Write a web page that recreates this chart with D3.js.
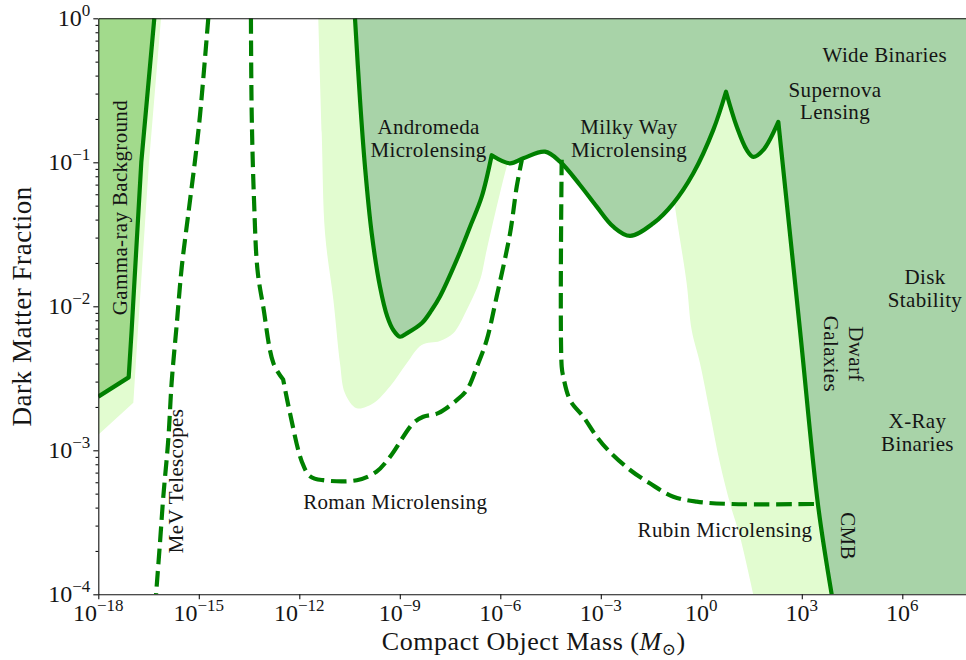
<!DOCTYPE html>
<html><head><meta charset="utf-8">
<script src="https://cdn.jsdelivr.net/npm/d3@7"></script>
<style>
body{margin:0;background:#fff}
svg{display:block}
text{font-family:"Liberation Serif","DejaVu Serif",serif;fill:#151515}
</style>
</head><body>
<svg id="chart" width="966" height="660"></svg>
<script>
// ---------- data (mass in solar masses, dark-matter fraction) ----------
const xTickValues = [1e-18, 1e-15, 1e-12, 1e-9, 1e-6, 1e-3, 1, 1e3, 1e6];
const xTickExponents = ["\u221218", "\u221215", "\u221212", "\u22129", "\u22126", "\u22123", "0", "3", "6"];
const yTickValues = [1e-4, 1e-3, 1e-2, 1e-1, 1];
const yTickExponents = ["\u22124", "\u22123", "\u22122", "\u22121", "0"];

// Gamma-ray background bound (solid)
const gammaLine = [[1e-18, 2.36e-3], [8.07e-18, 3.21e-3], [9.9e-18, 6.84e-3], [1.92e-17, 0.1], [4.7e-17, 1]];
// light band right of gamma-ray bound
const gammaBand = [[1e-18, 1.28e-3], [1.11e-17, 2.14e-3], [1.53e-17, 6.84e-3], [3.26e-17, 0.1], [7.45e-17, 1]];

// Microlensing / supernova / CMB combined bound (solid)
const mainBound = [
  [4.6e-11, 1], [6.49e-11, 0.271], [9.14e-11, 0.0932], [1.45e-10, 0.0321], [2.56e-10, 0.0137],
  [4.24e-10, 8.47e-3], [6.4e-10, 6.84e-3], [1.01e-9, 6.15e-3], [1.61e-9, 6.49e-3], [4.51e-9, 7.62e-3],
  [8.95e-9, 9.42e-3], [1.58e-8, 0.0117], [5.0e-8, 0.021], [1.25e-7, 0.0357], [2.79e-7, 0.0577],
  [5.53e-7, 0.112], [1.95e-6, 0.0984], [4.86e-6, 0.1066], [2.16e-5, 0.1185], [6.05e-5, 0.101],
  [2.39e-4, 0.0696], [7.55e-4, 0.0492], [2.36e-3, 0.0357], [7.45e-3, 0.0308], [0.0369, 0.0377],
  [0.146, 0.0519], [0.577, 0.0839], [2.28, 0.168], [5.46, 0.309], [11.4, 0.177], [22.6, 0.122],
  [35.6, 0.109], [71.0, 0.122], [199, 0.191], [883, 6.84e-3], [3.05e3, 4.17e-4], [7.8e3, 1e-4]
];
const mainBoundCusps = [15, 28, 33];

// light bands (other / projected constraints)
const andromedaBand = [
  [3.69e-12, 1], [4.67e-12, 0.16], [5.85e-12, 0.0323], [1.04e-11, 0.0111], [1.64e-11, 4.02e-3],
  [2.31e-11, 2.49e-3], [5.16e-11, 1.96e-3], [1.62e-10, 2.12e-3], [5.09e-10, 2.77e-3], [1.61e-9, 4.02e-3],
  [4.51e-9, 5.39e-3], [1.58e-8, 5.74e-3], [3.95e-8, 6.49e-3], [9.93e-8, 9.42e-3], [2.48e-7, 0.0152],
  [3.93e-7, 0.0246], [1.55e-6, 0.0932], [2.75e-6, 0.143]
];
const rubinBand = [
  [35.6, 1e-4], [14.3, 2.51e-4], [7.19, 4.28e-4], [3.61, 8.13e-4], [1.82, 1.81e-3], [0.914, 4.02e-3],
  [0.516, 6.84e-3], [0.366, 0.0144], [0.164, 0.0492], [0.101, 0.122]
];

// projected (dashed)
const mevLine = [
  [1.92e-15, 1], [1.09e-15, 0.214], [7.71e-16, 0.103], [4.86e-16, 0.0438], [3.09e-16, 0.0186],
  [2.19e-16, 7.45e-3], [1.55e-16, 2.98e-3], [1.23e-16, 1.19e-3], [8.71e-17, 4.75e-4], [6.95e-17, 2.29e-4],
  [5.3e-17, 1e-4]
];
const romanLine = [
  [3.6e-14, 1], [3.8e-14, 0.214], [4.45e-14, 0.0547], [5.65e-14, 0.0179], [8.4e-14, 9.9e-3],
  [1.7e-13, 4.0e-3], [3.3e-13, 3.1e-3], [5.3e-13, 1.8e-3], [1.2e-12, 8.3e-4], [2.1e-12, 6.6e-4],
  [5.2e-12, 6.2e-4], [5.2e-11, 6.2e-4], [2.0e-10, 7.1e-4], [5.1e-10, 9.0e-4], [2.5e-9, 1.54e-3],
  [5.0e-9, 1.71e-3], [1.4e-8, 1.81e-3], [5.0e-8, 2.23e-3], [1.0e-7, 2.62e-3], [2.0e-7, 3.8e-3],
  [3.9e-7, 5.8e-3], [7.8e-7, 1.17e-2], [1.95e-6, 3.2e-2], [3.1e-6, 6.8e-2], [4.4e-6, 0.104]
];
const romanCusps = [6];
const rubinLine = [
  [6.8e-5, 0.104], [6.8e-5, 3.81e-3], [7.6e-5, 3.24e-3], [1.21e-4, 2.23e-3], [3.0e-4, 1.71e-3],
  [7.6e-4, 1.24e-3], [1.67e-3, 1.0e-3], [7.5e-3, 7.3e-4], [2.9e-2, 5.9e-4], [0.146, 4.76e-4],
  [0.73, 4.4e-4], [7.2, 4.24e-4], [3.1e3, 4.24e-4]
];

// annotations: text lines, anchor (mass, fraction), rotation
const annotations = [
  {lines: ["Andromeda", "Microlensing"], m: 7.2e-9, f: 0.156, rot: 0},
  {lines: ["Milky Way", "Microlensing"], m: 6.95e-3, f: 0.157, rot: 0},
  {lines: ["Supernova", "Lensing"], m: 9.8e3, f: 0.286, rot: 0},
  {lines: ["Wide Binaries"], m: 3.0e5, f: 0.5, rot: 0},
  {lines: ["Disk", "Stability"], m: 4.76e6, f: 0.0143, rot: 0},
  {lines: ["X-Ray", "Binaries"], m: 2.84e6, f: 1.42e-3, rot: 0},
  {lines: ["Roman Microlensing"], m: 7.3e-10, f: 3.91e-4, rot: 0},
  {lines: ["Rubin Microlensing"], m: 5.1, f: 2.51e-4, rot: 0},
  {lines: ["Gamma-ray Background"], m: 7.2e-18, f: 0.0485, rot: -90},
  {lines: ["MeV Telescopes"], m: 3.49e-16, f: 6.12e-4, rot: -90},
  {lines: ["Dwarf", "Galaxies"], m: 2.56e4, f: 4.67e-3, rot: 90, gap: 25},
  {lines: ["CMB"], m: 1.48e4, f: 2.54e-4, rot: 90}
];

// ---------- drawing ----------
const svg = d3.select("#chart");
const pLeft = 98.3, pTop = 18.3, pBottom = 594.3, decadePx = 33.5;
const x = d3.scaleLog().domain([1e-18, 1e8]).range([pLeft, pLeft + 26 * decadePx]);
const y = d3.scaleLog().domain([1e-4, 1]).range([pBottom, pTop]);
const [xmin, xmax] = x.domain();
const [ymin, ymax] = y.domain();

const COL_LINE = "#008000", COL_DARK = "#a8d3a8", COL_GAMMA = "#a2da8c", COL_LIGHT = "#e2fcd0";

svg.append("defs").append("clipPath").attr("id", "plotclip")
  .append("rect").attr("x", pLeft).attr("y", pTop)
  .attr("width", x.range()[1] - pLeft).attr("height", pBottom - pTop);

const plot = svg.append("g").attr("clip-path", "url(#plotclip)");
const smooth = d3.line().x(d => x(d[0])).y(d => y(d[1])).curve(d3.curveCatmullRom.alpha(0.5));
const straight = d3.line().x(d => x(d[0])).y(d => y(d[1]));
const P = (m, f) => `L${x(m)},${y(f)}`;
// smooth path that keeps sharp corners at the given indices
function cuspPath(pts, cusps) {
  let d = "", start = 0;
  [...cusps, pts.length - 1].forEach((e, i) => {
    const seg = smooth(pts.slice(start, e + 1));
    d += i === 0 ? seg : seg.replace(/^M/, "L");
    start = e;
  });
  return d;
}
const mainPath = cuspPath(mainBound, mainBoundCusps);

// light bands
plot.append("path").attr("fill", COL_LIGHT)
  .attr("d", straight(gammaBand) + P(xmin, ymax) + "Z");
plot.append("path").attr("fill", COL_LIGHT)
  .attr("d", smooth(andromedaBand) + P(andromedaBand[andromedaBand.length - 1][0], ymax) + "Z");
plot.append("path").attr("fill", COL_LIGHT)
  .attr("d", smooth(rubinBand) + P(rubinBand[rubinBand.length - 1][0], ymax) + P(xmax, ymax) + P(xmax, ymin) + "Z");

// excluded regions
plot.append("path").attr("fill", COL_GAMMA)
  .attr("d", straight(gammaLine) + P(xmin, ymax) + "Z");
plot.append("path").attr("fill", COL_DARK)
  .attr("d", mainPath + P(xmax, ymin) + P(xmax, ymax) + "Z");

// dashed projections
[smooth(mevLine), cuspPath(romanLine, romanCusps), smooth(rubinLine)].forEach(d => {
  plot.append("path").attr("d", d).attr("fill", "none")
    .attr("stroke", COL_LINE).attr("stroke-width", 4.2).attr("stroke-dasharray", "15.5,6.7");
});
// solid bounds
[straight(gammaLine), mainPath].forEach(d => {
  plot.append("path").attr("d", d).attr("fill", "none")
    .attr("stroke", COL_LINE).attr("stroke-width", 4.2).attr("stroke-linejoin", "round");
});

// annotations
annotations.forEach(a => {
  const gap = a.gap || 22.6;
  const t = plot.append("text")
    .attr("transform", `translate(${x(a.m)},${y(a.f)}) rotate(${a.rot})`)
    .attr("text-anchor", "middle").attr("font-size", 21).attr("letter-spacing", 0.35);
  a.lines.forEach((ln, i) => t.append("tspan").attr("x", 0).attr("y", i * gap).text(ln));
});

// axes
svg.append("g").attr("transform", `translate(0,${pBottom})`)
  .call(d3.axisBottom(x).tickValues(xTickValues).tickSize(5).tickSizeOuter(0).tickFormat(""));
svg.append("g").attr("transform", `translate(0,${pTop})`)
  .call(d3.axisTop(x).tickValues([]).tickSizeOuter(0));
svg.append("g").attr("transform", `translate(${pLeft},0)`)
  .call(d3.axisLeft(y).tickValues(yTickValues).tickSize(5).tickSizeOuter(0).tickFormat(""));
svg.append("g").attr("transform", `translate(${pLeft},0)`)
  .call(d3.axisLeft(y).tickValues(y.ticks().filter(v => yTickValues.indexOf(v) < 0)).tickSize(2.8).tickFormat(""))
  .select(".domain").remove();
svg.selectAll(".domain").attr("stroke", "#111").attr("stroke-width", 1.1);
svg.selectAll(".tick line").attr("stroke", "#111").attr("stroke-width", 1.1);

// tick labels
function sci(t, exp) {
  t.append("tspan").text("10");
  t.append("tspan").attr("dy", -10).attr("font-size", 17).text(exp);
}
xTickValues.forEach((v, i) => {
  const t = svg.append("text").attr("x", x(v)).attr("y", pBottom + 26.5)
    .attr("text-anchor", "middle").attr("font-size", 24);
  sci(t, xTickExponents[i]);
});
yTickValues.forEach((v, i) => {
  const t = svg.append("text").attr("x", pLeft - 8).attr("y", y(v) + 8)
    .attr("text-anchor", "end").attr("font-size", 24);
  sci(t, yTickExponents[i]);
});

// axis titles
const xt = svg.append("text").attr("x", (pLeft + x.range()[1]) / 2).attr("y", 649.5)
  .attr("text-anchor", "middle").attr("font-size", 26).attr("letter-spacing", 0.55);
xt.append("tspan").text("Compact Object Mass (");
xt.append("tspan").attr("font-style", "italic").text("M");
xt.append("tspan").attr("dy", 5).attr("font-size", 17).text("\u2299");
xt.append("tspan").attr("dy", -5).text(")");

svg.append("text").attr("transform", `translate(31,${(pTop + pBottom) / 2}) rotate(-90)`)
  .attr("text-anchor", "middle").attr("font-size", 27).attr("letter-spacing", 0.55)
  .text("Dark Matter Fraction");
</script>
</body></html>
